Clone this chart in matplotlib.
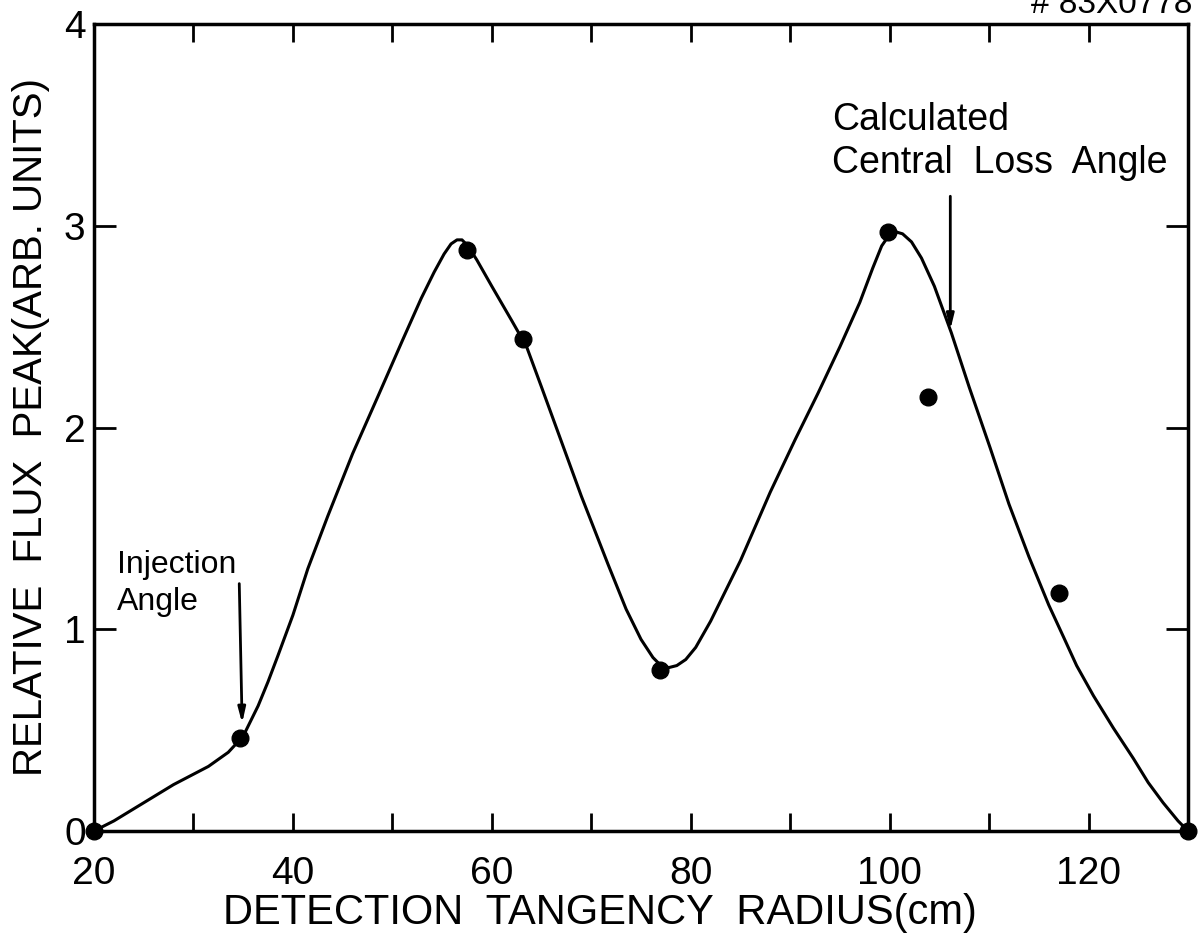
import matplotlib
matplotlib.use("Agg")
import matplotlib.pyplot as plt

plt.rcParams['font.family'] = ['Liberation Sans', 'DejaVu Sans']

# smooth curve
curve_x = [20, 22, 25, 28, 31.5, 33.5, 35, 36.5, 37.5, 38.5, 40, 41.5, 43.5, 46, 48.6,
           51, 52.9, 54.2, 55.2, 55.9, 56.5, 57.0, 57.6, 58.5, 60, 62, 63.5, 65, 67, 69,
           71.7, 73.5, 75, 76.2, 77.0, 77.8, 78.6, 79.5, 80.5, 82, 85, 88, 90.5, 92.8,
           95, 97, 98.3, 99.2, 99.9, 100.6, 101.3, 102.2, 103.2, 104.5, 106.2, 108,
           110.1, 112, 114, 116, 117.5, 118.8, 120.5, 122.5, 124.5, 126, 127.5, 129, 130]
curve_y = [0, 0.05, 0.14, 0.23, 0.32, 0.39, 0.47, 0.62, 0.74, 0.87, 1.07, 1.3, 1.56, 1.87, 2.16,
           2.43, 2.64, 2.77, 2.86, 2.91, 2.93, 2.93, 2.9, 2.83, 2.7, 2.53, 2.4, 2.2, 1.93, 1.66,
           1.32, 1.1, 0.95, 0.86, 0.82, 0.81, 0.82, 0.85, 0.91, 1.04, 1.34, 1.68, 1.94, 2.17,
           2.4, 2.62, 2.79, 2.9, 2.95, 2.97, 2.96, 2.92, 2.84, 2.7, 2.47, 2.2,
           1.9, 1.62, 1.36, 1.12, 0.96, 0.82, 0.67, 0.51, 0.36, 0.24, 0.14, 0.05, 0]

# measured points
pts_x = [20, 34.7, 57.5, 63.1, 76.9, 99.8, 103.9, 117.05, 130]
pts_y = [0, 0.46, 2.88, 2.44, 0.80, 2.97, 2.15, 1.18, 0]

xmajor = [20, 40, 60, 80, 100, 120]
xminor = [30, 50, 70, 90, 110]
yticks = [0, 1, 2, 3, 4]

fig = plt.figure(figsize=(11.99, 9.44), dpi=100)
ax = fig.add_axes([94 / 1199, 113 / 944, (1188 - 94) / 1199, (831 - 24) / 944])

ax.plot(curve_x, curve_y, color='black', lw=2.2, clip_on=False)
ax.plot(pts_x, pts_y, 'o', color='black', ms=12, clip_on=False)

ax.set_xlim(20, 130)
ax.set_ylim(0, 4)
ax.set_xticks(xmajor)
ax.set_xticklabels([str(v) for v in xmajor])
ax.set_xticks(xminor, minor=True)
ax.set_yticks(yticks)
ax.set_yticklabels([str(v) for v in yticks])

ax.tick_params(axis='both', which='both', direction='in', top=True, right=True,
               width=2, labelsize=28, colors='black')
ax.tick_params(axis='x', which='major', length=13, pad=18)
ax.tick_params(axis='x', which='minor', length=13)
ax.tick_params(axis='y', which='major', length=16, pad=6)
for s in ax.spines.values():
    s.set_linewidth(2.5)

ax.set_xlabel('DETECTION  TANGENCY  RADIUS(cm)', fontsize=30)
ax.xaxis.set_label_coords(0.4625, -0.077)
ax.set_ylabel('RELATIVE  FLUX  PEAK(ARB. UNITS)', fontsize=29, labelpad=10)

ax.text(22.3, 1.06, 'Injection\nAngle', fontsize=23, ha='left', va='bottom', linespacing=1.3)
ax.annotate('', xy=(34.9, 0.52), xytext=(34.6, 1.24),
            arrowprops=dict(arrowstyle='-|>,head_length=0.9,head_width=0.22', color='black', lw=2))

ax.text(94.2, 3.22, 'Calculated\nCentral  Loss  Angle', fontsize=27, ha='left', va='bottom', linespacing=1.25)
ax.annotate('', xy=(106.1, 2.47), xytext=(106.1, 3.16),
            arrowprops=dict(arrowstyle='-|>,head_length=0.9,head_width=0.22', color='black', lw=2))

fig.text(1112 / 1199, 0.995, '# 83X0778', fontsize=24, ha='center', va='center')

fig.savefig('out.png', dpi=100)
